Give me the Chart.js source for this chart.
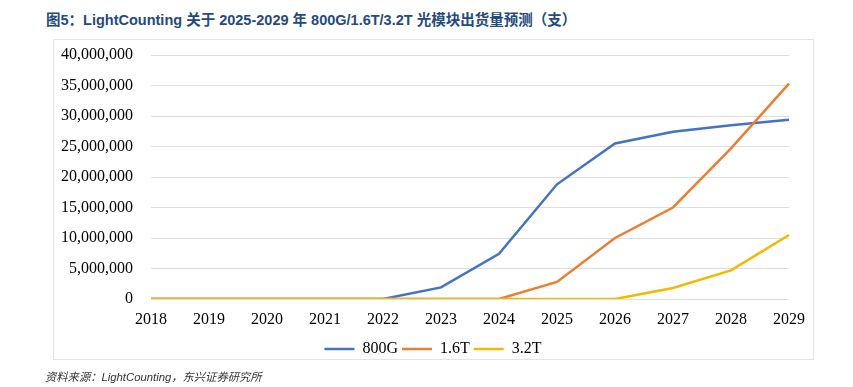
<!DOCTYPE html>
<html>
<head>
<meta charset="utf-8">
<script src="https://cdn.jsdelivr.net/npm/chart.js@4.4.0/dist/chart.umd.min.js"></script>
<style>
    html, body { margin: 0; padding: 0; background: #fff; }
    #wrap { position: relative; width: 853px; height: 387px; overflow: hidden; }
    #titulo {
        position: absolute; left: 46px; top: 8px;
        font: bold 14.5px "Liberation Sans", "Noto Sans CJK SC", sans-serif;
        color: #254a7c; white-space: nowrap;
    }
    #marco {
        position: absolute; left: 53px; top: 39px; width: 759px; height: 319px;
        border: 1px solid #e3e3e3;
    }
    #fuente {
        position: absolute; left: 45px; top: 368px;
        font: italic 11.3px "Liberation Sans", "Noto Sans CJK SC", sans-serif;
        color: #333; white-space: nowrap;
    }
    #lienzo { position: absolute; left: 0; top: 0; }
</style>
</head>
<body>
<div id="wrap">
    <div id="titulo">图5：LightCounting 关于 2025-2029 年 800G/1.6T/3.2T 光模块出货量预测（支）</div>
    <div id="marco"></div>
    <canvas id="lienzo" width="853" height="387"></canvas>
    <div id="fuente">资料来源：LightCounting，东兴证券研究所</div>
</div>
<script>
// Datos
const anios = ['2018', '2019', '2020', '2021', '2022', '2023', '2024', '2025', '2026', '2027', '2028', '2029'];
const serie800G = [0, 0, 0, 0, 0, 1900000, 7400000, 18800000, 25500000, 27400000, 28500000, 29400000];
const serie16T = [0, 0, 0, 0, 0, 0, 0, 2800000, 10000000, 15000000, 24700000, 35300000];
const serie32T = [0, 0, 0, 0, 0, 0, 0, 0, 0, 1800000, 4700000, 10500000];
const nombresSeries = ['800G', '1.6T', '3.2T'];
const colores = ['#4472c4', '#ed7d31', '#f5b800'];

const fuenteSerif = '"Liberation Serif", "Times New Roman", serif';

function serie(i, datos) {
    return {
        label: nombresSeries[i],
        data: datos,
        borderColor: colores[i],
        backgroundColor: colores[i],
        borderWidth: 2.5,
        pointRadius: 0,
        pointStyle: 'line',
        tension: 0,
        order: 3 - i // la última serie queda encima
    };
}

new Chart(document.getElementById('lienzo'), {
    type: 'line',
    data: {
        labels: anios,
        datasets: [serie(0, serie800G), serie(1, serie16T), serie(2, serie32T)]
    },
    options: {
        responsive: false,
        animation: false,
        // el marco va de x=53 a x=813, la leyenda se centra en él
        layout: { padding: { left: 53, right: 40, top: 55, bottom: 20 } },
        plugins: {
            tooltip: { enabled: false },
            legend: {
                position: 'bottom',
                labels: {
                    usePointStyle: true,
                    pointStyle: 'line',
                    pointStyleWidth: 30,
                    color: '#000',
                    padding: 4,
                    font: { family: fuenteSerif, size: 16 },
                    sort: (a, b) => a.datasetIndex - b.datasetIndex
                }
            }
        },
        scales: {
            x: {
                offset: false,
                grid: { display: false },
                border: { display: false },
                ticks: { color: '#000', padding: 3, maxRotation: 0, font: { family: fuenteSerif, size: 16 } },
                afterFit: function (escala) { escala.height = 38; }
            },
            y: {
                min: 0,
                max: 40000000,
                grid: { color: '#dedede', lineWidth: 1, drawTicks: false },
                border: { display: false },
                ticks: {
                    stepSize: 5000000,
                    color: '#000',
                    padding: 18,
                    font: { family: fuenteSerif, size: 16 },
                    callback: v => v.toLocaleString('en-US')
                },
                afterFit: function (escala) { escala.width = 98; }
            },
            // eje vacío a la derecha, solo para dejar hueco hasta el marco
            hueco: {
                type: 'linear',
                position: 'right',
                grid: { display: false },
                border: { display: false },
                ticks: { display: false },
                afterFit: function (escala) { escala.width = 24; }
            }
        }
    }
});
</script>
</body>
</html>
